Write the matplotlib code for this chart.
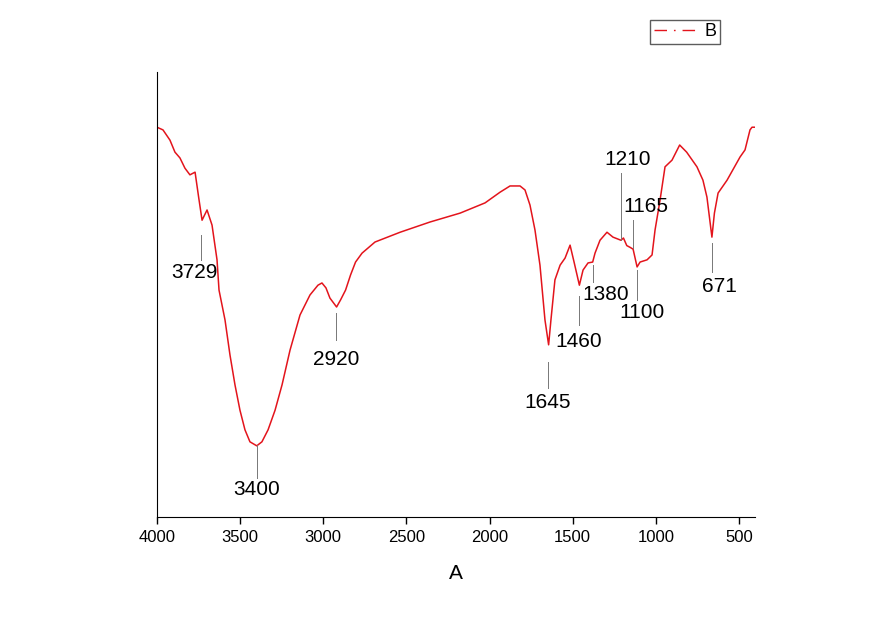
import matplotlib
matplotlib.use("Agg")
import matplotlib.pyplot as plt
from matplotlib.lines import Line2D

plt.rcParams['font.family'] = ['Liberation Sans', 'DejaVu Sans']

# FTIR spectrum (wavenumber, transmittance %)
wavenumber = [4000, 3964, 3922, 3892, 3862, 3832, 3802, 3771, 3750, 3729,
              3699, 3669, 3639, 3627, 3591, 3561, 3531, 3501, 3471, 3441,
              3400, 3369, 3332, 3290, 3248, 3200, 3140, 3080, 3032, 3008,
              2984, 2960, 2920, 2896, 2866, 2836, 2806, 2767, 2689, 2538,
              2358, 2177, 2027, 1937, 1877, 1817, 1787, 1757, 1727, 1697,
              1667, 1645, 1631, 1607, 1576, 1546, 1516, 1492, 1460, 1438,
              1408, 1380, 1366, 1336, 1294, 1258, 1210, 1195, 1175, 1155,
              1137, 1113, 1095, 1053, 1023, 1005, 975, 945, 903, 857,
              815, 753, 717, 693, 663, 648, 626, 572, 494, 464,
              434, 422, 404]
transmittance = [87.6, 87.0, 84.7, 82.0, 80.7, 78.4, 76.9, 77.5, 72.0, 66.7,
                 69.0, 65.6, 57.8, 51.0, 44.3, 36.4, 29.7, 24.0, 19.6, 16.9,
                 16.0, 16.9, 19.6, 24.0, 29.7, 37.5, 45.4, 49.9, 52.1, 52.6,
                 51.5, 49.2, 47.2, 48.8, 51.0, 54.4, 57.3, 59.3, 61.8, 64.0,
                 66.3, 68.3, 70.6, 73.0, 74.4, 74.4, 73.5, 70.1, 64.5, 56.6,
                 44.3, 38.7, 44.3, 53.3, 56.6, 58.2, 61.1, 57.3, 52.1, 55.5,
                 57.1, 57.3, 59.3, 62.2, 64.0, 62.9, 62.2, 62.7, 61.0, 60.6,
                 60.2, 56.2, 57.3, 57.8, 58.9, 64.5, 71.2, 78.7, 80.2, 83.6,
                 82.0, 78.7, 75.7, 71.9, 62.9, 68.3, 72.8, 75.7, 80.9, 82.5,
                 87.0, 87.6, 87.6]

# peak labels: leader line x, leader top, leader bottom, text centre x, text top
peak_labels = ['3729', '3400', '2920', '1645', '1460', '1380', '1100', '671', '1210', '1165']
line_x = [3738, 3400, 2924, 1649, 1462, 1378, 1113, 662, 1211, 1137]
line_y0 = [63.4, 16.2, 45.8, 34.8, 49.7, 56.6, 55.5, 61.6, 77.3, 66.7]
line_y1 = [57.8, 8.8, 39.8, 29.0, 43.1, 52.8, 48.8, 55.1, 62.2, 60.4]
text_x = [3774, 3400, 2920, 1649, 1462, 1300, 1083, 620, 1170, 1059]
text_y = [57.1, 8.3, 37.5, 27.9, 41.6, 52.1, 48.1, 53.9, 82.5, 71.9]

fig = plt.figure(figsize=(8.78, 6.2), dpi=100)
ax = fig.add_axes([0.1788, 0.1661, 0.6811, 0.7177])

ax.plot(wavenumber, transmittance, color='#e3141c', lw=1.1)

for lab, lx, y0, y1, tx, ty in zip(peak_labels, line_x, line_y0, line_y1, text_x, text_y):
    ax.plot([lx, lx], [y0, y1], color='#777777', lw=0.7)
    ax.text(tx, ty, lab, ha='center', va='top', fontsize=15)

ax.set_xlim(4000, 404)
ax.set_ylim(0, 100)
ax.set_xticks([4000, 3500, 3000, 2500, 2000, 1500, 1000, 500])
ax.set_yticks([])
ax.spines['top'].set_visible(False)
ax.spines['right'].set_visible(False)
ax.tick_params(axis='x', direction='out', length=5, width=1, labelsize=12, pad=4)
ax.set_xlabel('A', fontsize=15, labelpad=14)

handle = Line2D([], [], color='#e3141c', lw=1, linestyle=(0, (9, 5, 1.2, 5)))
fig.legend([handle], ['B'], loc='upper right', bbox_to_anchor=(0.820, 0.968),
           fontsize=13, frameon=True, fancybox=False, edgecolor='#333333',
           handlelength=2.4, borderpad=0.2, handletextpad=0.4, borderaxespad=0)

fig.savefig('out.png', dpi=100)
